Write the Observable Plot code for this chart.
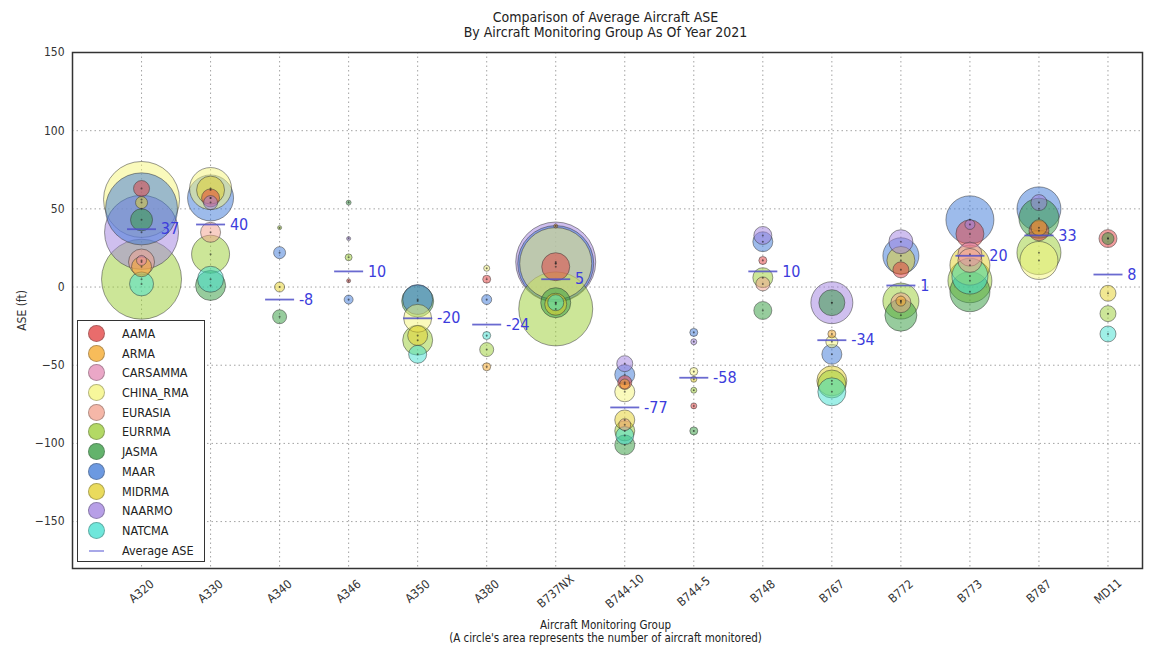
<!DOCTYPE html>
<html><head><meta charset="utf-8">
<script src="https://cdn.jsdelivr.net/npm/d3@7"></script>
<script src="https://cdn.jsdelivr.net/npm/@observablehq/plot@0.6"></script>
<style>
body{margin:0;background:#fff;font-family:"DejaVu Sans Condensed","Liberation Sans Narrow","DejaVu Sans",sans-serif;color:#222;}
#wrap{position:relative;width:1167px;height:647px;overflow:hidden;}
#title{height:44px;text-align:center;font-size:14px;line-height:15px;padding-top:10px;box-sizing:border-box;padding-left:44px;}
#caption{text-align:center;font-size:11.5px;line-height:13px;padding-left:44px;padding-top:4px;}
#legend{position:absolute;left:77px;top:320px;width:128px;height:242px;border:1.5px solid #333;background:#fff;box-sizing:border-box;padding-top:3px;}
.row{height:19.7px;position:relative;font-size:12.5px;line-height:19.7px;}
.mk{position:absolute;left:10px;top:1px;width:17px;height:17px;border-radius:50%;box-sizing:border-box;border:1px solid rgba(0,0,0,0.35);}
.ln{position:absolute;left:11px;top:9px;width:15px;height:2px;background:#a8a8e8;}
.lb{position:absolute;left:44px;}
</style></head>
<body><div id="wrap">
<div id="title">Comparison of Average Aircraft ASE<br>By Aircraft Monitoring Group As Of Year 2021</div>
<div id="chart"></div>
<div id="caption">Aircraft Monitoring Group<br>(A circle's area represents the number of aircraft monitored)</div>
<div id="legend"></div>
</div>
<script>
const groups = ["A320","A330","A340","A346","A350","A380","B737NX","B744-10","B744-5","B748","B767","B772","B773","B787","MD11"];
const orgs = ["AAMA","ARMA","CARSAMMA","CHINA_RMA","EURASIA","EURRMA","JASMA","MAAR","MIDRMA","NAARMO","NATCMA"];
const orgColors = ["#e23b3b","#f5a623","#e38ab5","#f5f57a","#f2a08c","#9acd32","#2f9a3c","#3c78d8","#e3d026","#9f7fe0","#3fe0d0"];
const avgASE = [37,40,-8,10,-20,-24,5,-77,-58,10,-34,1,20,33,8];
const yTicks = [-150,-100,-50,0,50,100,150];

// ASE (ft) per org (rows) and aircraft group (columns); null = not monitored
const aseRows = [
  [63, 57, null, 4, null, 5, 13, -61, -76, 17, null, 11, 34, 36, 31],      // AAMA
  [13, null, null, null, null, -51, 39, -62, null, null, -30, -9, null, 38, null], // ARMA
  [17, null, null, null, null, null, null, null, null, null, null, null, 21, null, null], // CARSAMMA
  [56, 63, null, null, -20, 12, 15, -67, -54, null, -35, null, null, 17, null], // CHINA_RMA
  [16, 35, null, null, null, null, null, -88, null, 2, null, -10, 17, null, null], // EURASIA
  [5, 21, 38, 19, -34, -40, -14, -92, -66, 6, -62, -9, 4, 22, -17],         // EURRMA
  [43, 1, -19, 54, -9, null, -10, -101, -92, -15, -10, -18, -3, 44, 31],    // JASMA
  [50, 57, 22, -8, -8, -8, 15, -56, -29, 29, -43, 20, 43, 50, null],        // MAAR
  [54, 62, 0, null, -31, null, -11, -85, -59, null, -60, 17, 14, null, -4], // MIDRMA
  [35, 54, null, 31, null, null, 16, -49, -35, 33, -10, 29, 40, 54, null],  // NAARMO
  [2, 5, null, null, -43, -31, -10, -95, null, null, -67, null, 7, null, -30] // NATCMA
];
// number of aircraft monitored per org and group
const countRows = [
  [64, 81, 0, 4, 0, 16, 196, 49, 9, 16, 0, 64, 196, 100, 81],
  [100, 0, 0, 0, 0, 16, 4, 25, 0, 0, 16, 25, 0, 64, 0],
  [25, 0, 0, 0, 0, 0, 0, 0, 0, 0, 0, 0, 144, 0, 0],
  [1444, 441, 0, 0, 196, 9, 1296, 100, 16, 0, 36, 0, 0, 361, 0],
  [169, 100, 0, 0, 0, 0, 0, 36, 0, 49, 0, 100, 144, 0, 0],
  [1600, 361, 4, 12, 225, 49, 1369, 100, 9, 100, 196, 324, 484, 484, 64],
  [121, 225, 49, 6, 256, 0, 225, 100, 16, 81, 169, 256, 400, 400, 36],
  [1296, 529, 36, 20, 225, 25, 1444, 100, 16, 100, 100, 324, 576, 484, 0],
  [36, 196, 25, 0, 100, 0, 121, 100, 9, 0, 225, 196, 400, 0, 64],
  [1369, 49, 0, 4, 0, 0, 1600, 64, 9, 81, 441, 144, 25, 64, 0],
  [144, 169, 0, 0, 81, 16, 64, 81, 0, 0, 196, 0, 324, 0, 64]
];

const bubbles = [];
orgs.forEach((o, k) => groups.forEach((g, i) => {
  const v = aseRows[k][i];
  if (v != null && countRows[k][i] > 0) bubbles.push({gi: i, org: o, ase: v, n: countRows[k][i]});
}));
const avgs = groups.map((g, i) => ({gi: i, ase: avgASE[i]}));
const idx = d3.range(groups.length);

const chart = Plot.plot({
  width: 1167, height: 571,
  marginTop: 8, marginLeft: 72, marginRight: 25, marginBottom: 47,
  style: {fontFamily: '"DejaVu Sans Condensed","Liberation Sans Narrow","DejaVu Sans",sans-serif', fontSize: "12px", color: "#333", background: "#fff"},
  x: {domain: [-1, 14.5]},
  y: {domain: [-180, 150]},
  r: {type: "sqrt", domain: [0, 1600], range: [0, 40]},
  color: {domain: orgs, range: orgColors},
  marks: [
    Plot.gridX(idx, {stroke: "#999", strokeOpacity: 0.9, strokeDasharray: "1.5,3"}),
    Plot.gridY(yTicks, {stroke: "#999", strokeOpacity: 0.9, strokeDasharray: "1.5,3"}),
    Plot.dot(bubbles, {x: "gi", y: "ase", r: "n", fill: "org", fillOpacity: 0.5, stroke: "#333", strokeOpacity: 0.5, strokeWidth: 1}),
    Plot.dot(bubbles, {x: "gi", y: "ase", r: 1, fill: "#222", fillOpacity: 0.6}),
    Plot.link(avgs, {x1: d => d.gi - 0.21, x2: d => d.gi + 0.21, y1: "ase", y2: "ase", stroke: "#5050c8", strokeOpacity: 0.85, strokeWidth: 1.8}),
    Plot.text(avgs, {x: d => d.gi + 0.28, y: "ase", text: d => String(d.ase), textAnchor: "start", fill: "#3c3cdc", fontSize: 16}),
    Plot.axisX(idx, {tickFormat: i => groups[i], tickRotate: -40, textAnchor: "middle", lineAnchor: "middle", tickSize: 0, tickPadding: 23, label: null, fill: "#333", fontSize: 12}),
    Plot.axisY(yTicks, {label: "ASE (ft)", labelAnchor: "center", labelArrow: "none", labelOffset: 55, tickSize: 0, tickPadding: 8, fill: "#333", fontSize: 12}),
    Plot.frame({stroke: "#333", strokeWidth: 1.5})
  ]
});
document.getElementById("chart").appendChild(chart);

const leg = document.getElementById("legend");
orgs.forEach((o, k) => {
  const row = document.createElement("div"); row.className = "row";
  const mk = document.createElement("span"); mk.className = "mk";
  mk.style.background = orgColors[k]; mk.style.opacity = 0.75;
  const lb = document.createElement("span"); lb.className = "lb"; lb.textContent = o;
  row.appendChild(mk); row.appendChild(lb); leg.appendChild(row);
});
const row = document.createElement("div"); row.className = "row";
const ln = document.createElement("span"); ln.className = "ln";
const lb = document.createElement("span"); lb.className = "lb"; lb.textContent = "Average ASE";
row.appendChild(ln); row.appendChild(lb); leg.appendChild(row);
</script>
</body></html>
